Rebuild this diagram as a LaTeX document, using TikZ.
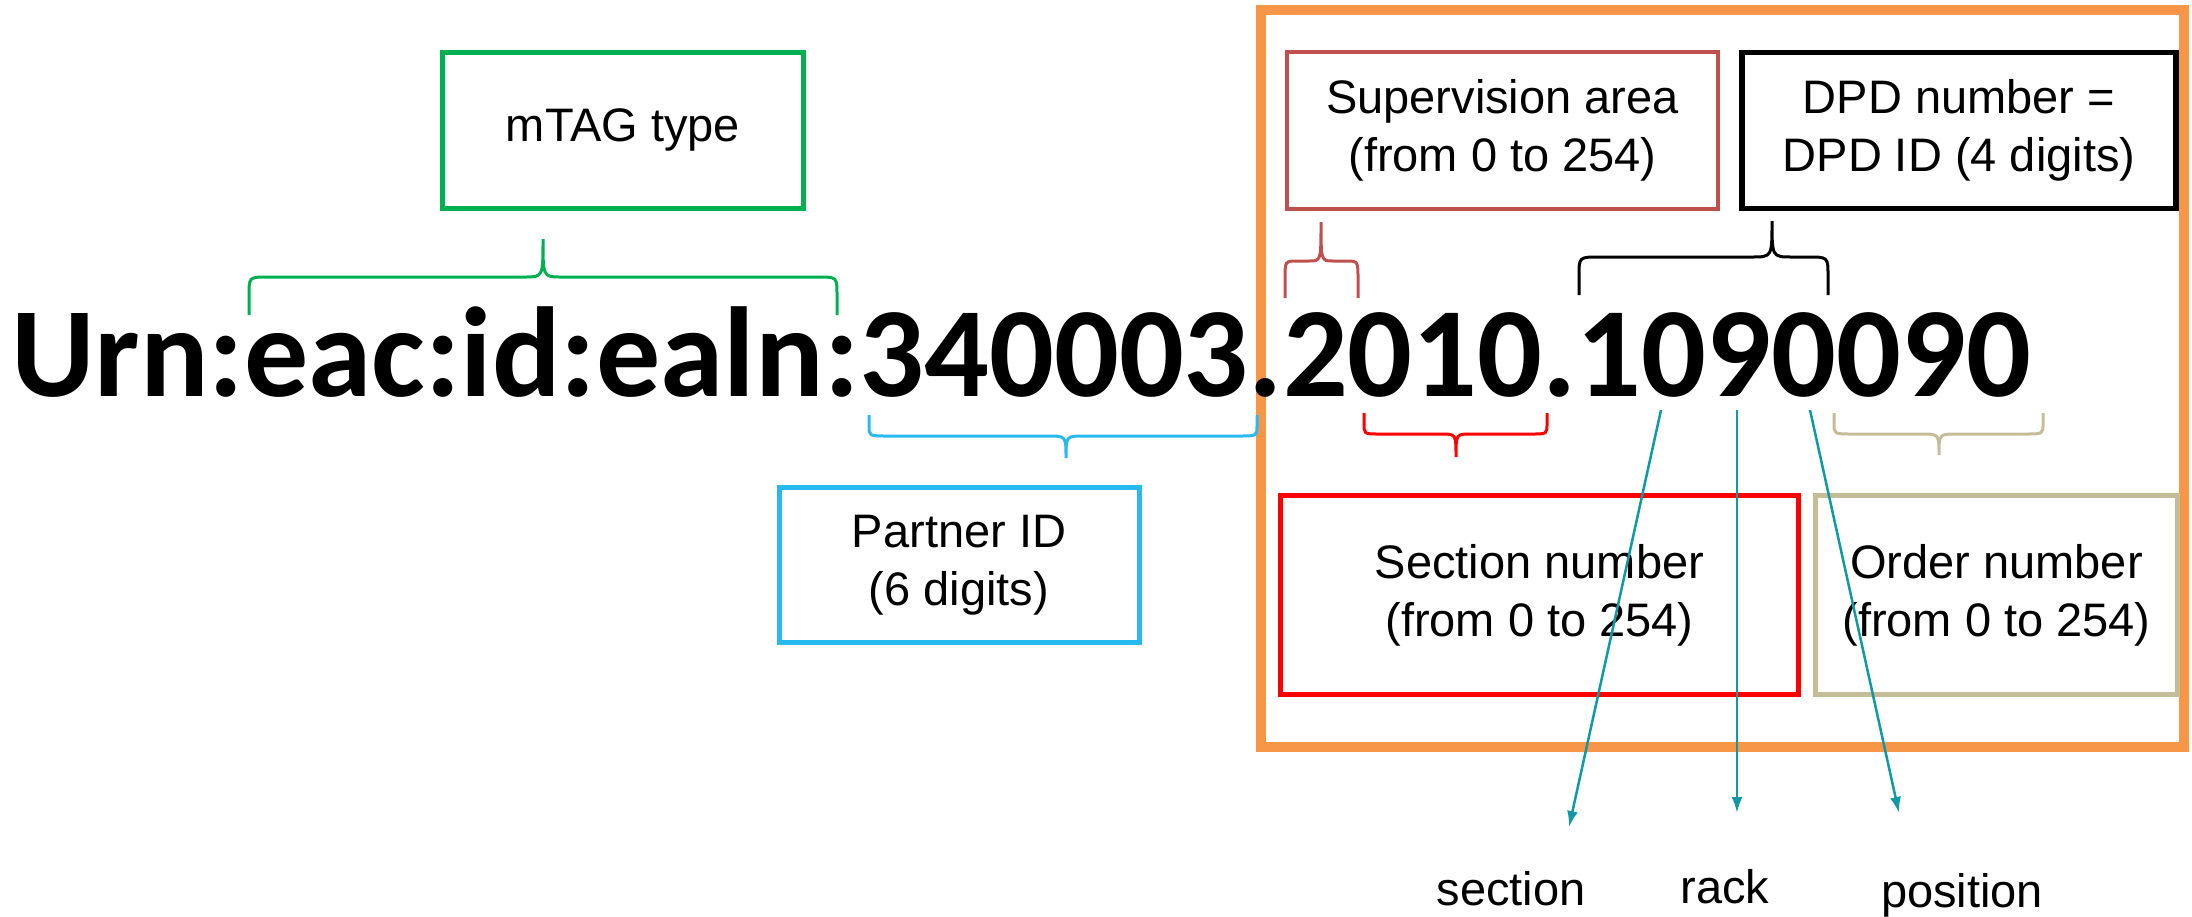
\documentclass[tikz,border=0pt]{standalone}
\usepackage{fontspec}
\setmainfont{Liberation Sans}
\newfontfamily\calib{Carlito}
\usetikzlibrary{arrows.meta}
\definecolor{cgreen}{RGB}{0,176,80}
\definecolor{cblue}{RGB}{40,185,240}
\definecolor{corange}{RGB}{247,150,70}
\definecolor{cbrown}{RGB}{192,80,77}
\definecolor{cred}{RGB}{255,0,0}
\definecolor{ctan}{RGB}{196,189,151}
\definecolor{cteal}{RGB}{16,152,166}
\tikzset{
  lbox/.style={draw, line width=5pt, align=center, inner sep=0pt,
    font=\fontsize{47}{58}\selectfont},
  bracestyle/.style={line width=3pt},
  lbl/.style={font=\fontsize{47}{58}\selectfont, inner sep=0pt, anchor=base},
  tealarrow/.style={draw=cteal, line width=2.5pt, -{Latex[length=16pt,width=11pt]}}
}
\newcommand\drawbrace[8]{%
 \draw[bracestyle,#1] (#2,-#5) -- (#2,{-(#6+0.5*(#5-#6))}) .. controls (#2,-#6) .. ({#2+#8},-#6)
   -- ({#3-#8},-#6) .. controls (#3,-#6) .. (#3,-#7) .. controls (#3,-#6) .. ({#3+#8},-#6)
   -- ({#4-#8},-#6) .. controls (#4,-#6) .. (#4,{-(#6+0.5*(#5-#6))}) -- (#4,-#5);}
\begin{document}
\begin{tikzpicture}[x=1pt,y=1pt]
\useasboundingbox (0,0) rectangle (2192,-916);
% orange frame
\draw[corange, line width=10pt] (1261,-10) rectangle (2184,-747);
% main text
\node[anchor=base west, inner sep=0pt, font=\calib\bfseries\fontsize{128}{128}\selectfont] (urn) at (11,-396) {Urn:eac:id:ealn:340003.2010.1090090};
% boxes
\node[lbox, draw=cgreen, minimum width=361pt, minimum height=156pt] (mtag) at (623,-130) {mTAG type};
\node[lbox, draw=cbrown, line width=4.5pt, minimum width=431pt, minimum height=157pt] (sup) at (1502.5,-130.5) {Supervision area\\(from 0 to 254)};
\node[lbox, draw=black, line width=5.5pt, minimum width=434pt, minimum height=156pt] (dpd) at (1959,-130.5) {DPD number =\\DPD ID (4 digits)};
\node[lbox, draw=cblue, minimum width=360pt, minimum height=155pt] (partner) at (959,-565) {Partner ID\\(6 digits)};
\node[lbox, draw=cred, minimum width=518pt, minimum height=199pt] (sec) at (1539.5,-595) {Section number\\(from 0 to 254)};
\node[lbox, draw=ctan, minimum width=362pt, minimum height=199pt] (ord) at (1996.5,-595) {Order number\\(from 0 to 254)};
% braces
\drawbrace{cgreen}{249}{543}{837}{315}{277}{239}{18}
\drawbrace{cblue}{869}{1066}{1257}{415}{436}{458}{18}
\drawbrace{cbrown}{1285}{1321}{1358}{298}{261}{222}{12}
\drawbrace{black}{1579}{1772}{1828}{295}{257}{221}{20}
\drawbrace{cred}{1364}{1456}{1547}{413}{434}{457}{15}
\drawbrace{ctan}{1834}{1939}{2043}{413}{434}{455}{18}
% arrows
\coordinate (s1) at (1661,-410);
\coordinate (s2) at (1737,-410);
\coordinate (s3) at (1810,-410);
\coordinate (t1) at (1569,-827);
\coordinate (t2) at (1737,-813);
\coordinate (t3) at (1899,-813);
\draw[tealarrow] (s1) -- (t1);
\draw[tealarrow] (s2) -- (t2);
\draw[tealarrow] (s3) -- (t3);
\node[lbl] (lsec) at (1511,-905) {section};
\node[lbl] (lrack) at (1725,-903) {rack};
\node[lbl] (lpos) at (1962,-907) {position};
\end{tikzpicture}
\end{document}
